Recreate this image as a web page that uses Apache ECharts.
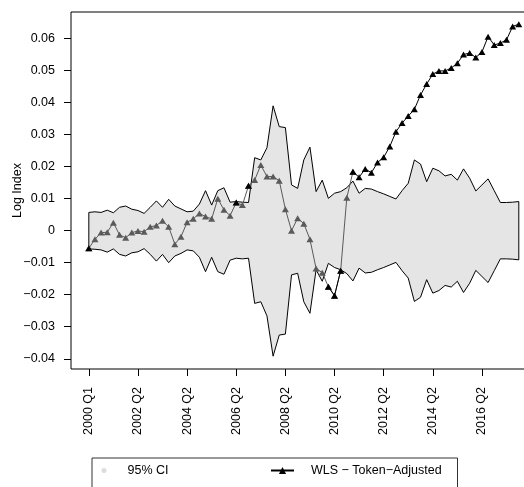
<!DOCTYPE html>
<html><head><meta charset="utf-8">
<script src="https://cdn.jsdelivr.net/npm/echarts@6/dist/echarts.min.js"></script>
<style>html,body{margin:0;padding:0;background:#fff}#c{width:524px;height:487px}</style>
</head><body><div id="c"></div>
<script>
// WLS - Token-Adjusted log index, one value per period (index 0 = 2000 Q1)
const wlsTokenAdjusted = [
 -0.0055,-0.0027,-0.0006,-0.0005,0.0025,-0.0013,-0.0022,-0.0006,-0.0001,-0.0003,
 0.0012,0.0016,0.0031,0.0012,-0.0042,-0.0019,0.0026,0.0037,0.0054,0.0044,
 0.0037,0.0100,0.0065,0.0047,0.0088,0.0080,0.0140,0.0158,0.0205,0.0169,
 0.0169,0.0156,0.0067,0.0000,0.0039,0.0022,-0.0027,-0.0118,-0.0131,-0.0175,
 -0.0203,-0.0125,0.0103,0.0184,0.0167,0.0193,0.0181,0.0213,0.0229,0.0263,
 0.0309,0.0336,0.0358,0.0379,0.0424,0.0458,0.0489,0.0499,0.0499,0.0508,
 0.0523,0.0550,0.0555,0.0541,0.0558,0.0606,0.0580,0.0586,0.0596,0.0638,
 0.0645];
// 95% CI bounds
const ciUpper = [
 0.0057,0.0059,0.0057,0.0064,0.0056,0.0073,0.0077,0.0067,0.0063,0.0054,
 0.0073,0.0093,0.0073,0.0098,0.0077,0.0068,0.0059,0.0061,0.0083,0.0125,
 0.0080,0.0125,0.0134,0.0089,0.0091,0.0089,0.0088,0.0228,0.0221,0.0259,
 0.0390,0.0325,0.0322,0.0143,0.0132,0.0221,0.0261,0.0122,0.0158,0.0101,
 0.0117,0.0122,0.0134,0.0155,0.0117,0.0132,0.0130,0.0122,0.0115,0.0107,
 0.0099,0.0125,0.0148,0.0221,0.0208,0.0153,0.0195,0.0187,0.0171,0.0176,
 0.0158,0.0193,0.0164,0.0124,0.0143,0.0162,0.0125,0.0088,0.0088,0.0089,
 0.0091];
const ciLower = [
 -0.0057,-0.0058,-0.0060,-0.0067,-0.0057,-0.0074,-0.0079,-0.0069,-0.0066,-0.0056,
 -0.0074,-0.0095,-0.0074,-0.0100,-0.0079,-0.0071,-0.0060,-0.0063,-0.0083,-0.0128,
 -0.0083,-0.0128,-0.0136,-0.0092,-0.0086,-0.0088,-0.0086,-0.0227,-0.0222,-0.0266,
 -0.0392,-0.0326,-0.0323,-0.0138,-0.0133,-0.0222,-0.0258,-0.0122,-0.0158,-0.0102,
 -0.0115,-0.0122,-0.0134,-0.0157,-0.0117,-0.0132,-0.0130,-0.0122,-0.0115,-0.0107,
 -0.0099,-0.0125,-0.0148,-0.0221,-0.0208,-0.0153,-0.0195,-0.0187,-0.0171,-0.0176,
 -0.0158,-0.0193,-0.0164,-0.0124,-0.0143,-0.0162,-0.0125,-0.0088,-0.0088,-0.0089,
 -0.0091];
// x tick positions (period index) and labels
const tickIndex = [0,8,16,24,32,40,48,56,64];
const tickLabels = ['2000 Q1','2002 Q2','2004 Q2','2006 Q2','2008 Q2','2010 Q2','2012 Q2','2014 Q2','2016 Q2'];
const yTicks = [-0.04,-0.03,-0.02,-0.01,0,0.01,0.02,0.03,0.04,0.05,0.06];
// periods where the black marker is on top; grey overlay runs up to greyLast
const blackShown = [0,24,26,39,40,41,43,44,45,46,47,48,49,50,51,52,53,54,55,56,57,58,59,60,61,62,63,64,65,66,67,68,69,70];
const greyLast = 43;

const seriesName = 'WLS \u2212 Token\u2212Adjusted';
const FONT = '"Liberation Sans", Arial, Helvetica, sans-serif';
const fs = 12.5;

const greyData = wlsTokenAdjusted.slice(0, greyLast + 1).map((v, i) => [i, v]);
const blackData = wlsTokenAdjusted.map((v, i) => blackShown.indexOf(i) >= 0 ? [i, v] : [i, '-']);

const chart = echarts.init(document.getElementById('c'), null, {renderer: 'canvas'});
chart.setOption({
  animation: false,
  backgroundColor: '#fff',
  textStyle: {fontFamily: FONT},
  grid: {left: 71, top: 12, width: 465, height: 357, show: true, borderColor: '#000', borderWidth: 1,
         backgroundColor: 'transparent', containLabel: false, outerBoundsMode: 'none'},
  xAxis: {
    type: 'value', min: -2.9, max: 72.8, position: 'bottom',
    axisLine: {show: false, onZero: false}, splitLine: {show: false},
    axisTick: {show: true, length: 7, customValues: tickIndex, lineStyle: {color: '#000', width: 1}},
    axisLabel: {customValues: tickIndex, rotate: 90, margin: 18, color: '#000', fontSize: fs, fontFamily: FONT,
      formatter: v => { const k = tickIndex.indexOf(Math.round(v)); return k >= 0 ? tickLabels[k] : ''; }}
  },
  yAxis: {
    type: 'value', min: -0.0432, max: 0.0683, position: 'left',
    name: 'Log Index', nameLocation: 'middle', nameGap: 47, nameRotate: 90, nameMoveOverlap: false,
    nameTextStyle: {color: '#000', fontSize: fs, fontFamily: FONT},
    axisLine: {show: false, onZero: false}, splitLine: {show: false},
    axisTick: {show: true, length: 7, customValues: yTicks, lineStyle: {color: '#000', width: 1}},
    axisLabel: {customValues: yTicks, margin: 16, color: '#000', fontSize: fs, fontFamily: FONT,
      formatter: v => Math.abs(v) < 1e-9 ? '0' : v.toFixed(2).replace('-', '\u2212')}
  },
  legend: [
    {data: [{name: '95% CI', icon: 'circle', itemStyle: {color: '#dcdcdc'}}], selectedMode: false,
     left: 101.5, top: 464, padding: 0, itemWidth: 5, itemHeight: 5,
     textStyle: {color: '#000', fontSize: fs, fontFamily: FONT, padding: [0, 0, 0, 16]}},
    {data: [seriesName], selectedMode: false,
     left: 270, top: 464, padding: 0, itemWidth: 23, itemHeight: 9,
     textStyle: {color: '#000', fontSize: fs, fontFamily: FONT, padding: [0, 0, 0, 12]}}
  ],
  graphic: [{type: 'rect', left: 89.5, top: 455.5, shape: {width: 365.5, height: 60}, style: {fill: 'none', stroke: '#333', lineWidth: 1}, silent: true}],
  series: [
    {type: 'custom', name: '95% CI', silent: true, z: 1, itemStyle: {color: '#dcdcdc'},
     data: [[0, 0]],
     renderItem: (params, api) => {
       const pts = [];
       for (let i = 0; i < ciUpper.length; i++) pts.push(api.coord([i, ciUpper[i]]));
       for (let i = ciLower.length - 1; i >= 0; i--) pts.push(api.coord([i, ciLower[i]]));
       return {type: 'polygon', shape: {points: pts}, style: {fill: '#e5e5e5', stroke: '#000', lineWidth: 1}};
     }},
    {type: 'line', name: 'grey', z: 3, data: greyData, symbol: 'triangle', symbolSize: [7, 6], showSymbol: true,
     itemStyle: {color: '#5a5a5a'}, lineStyle: {color: '#5a5a5a', width: 1}, silent: true},
    {type: 'line', name: seriesName, z: 4, data: blackData, symbol: 'triangle', symbolSize: [7, 6], showSymbol: true,
     connectNulls: false, itemStyle: {color: '#000'}, lineStyle: {color: '#000', width: 1}, silent: true}
  ]
});
</script>
</body></html>
